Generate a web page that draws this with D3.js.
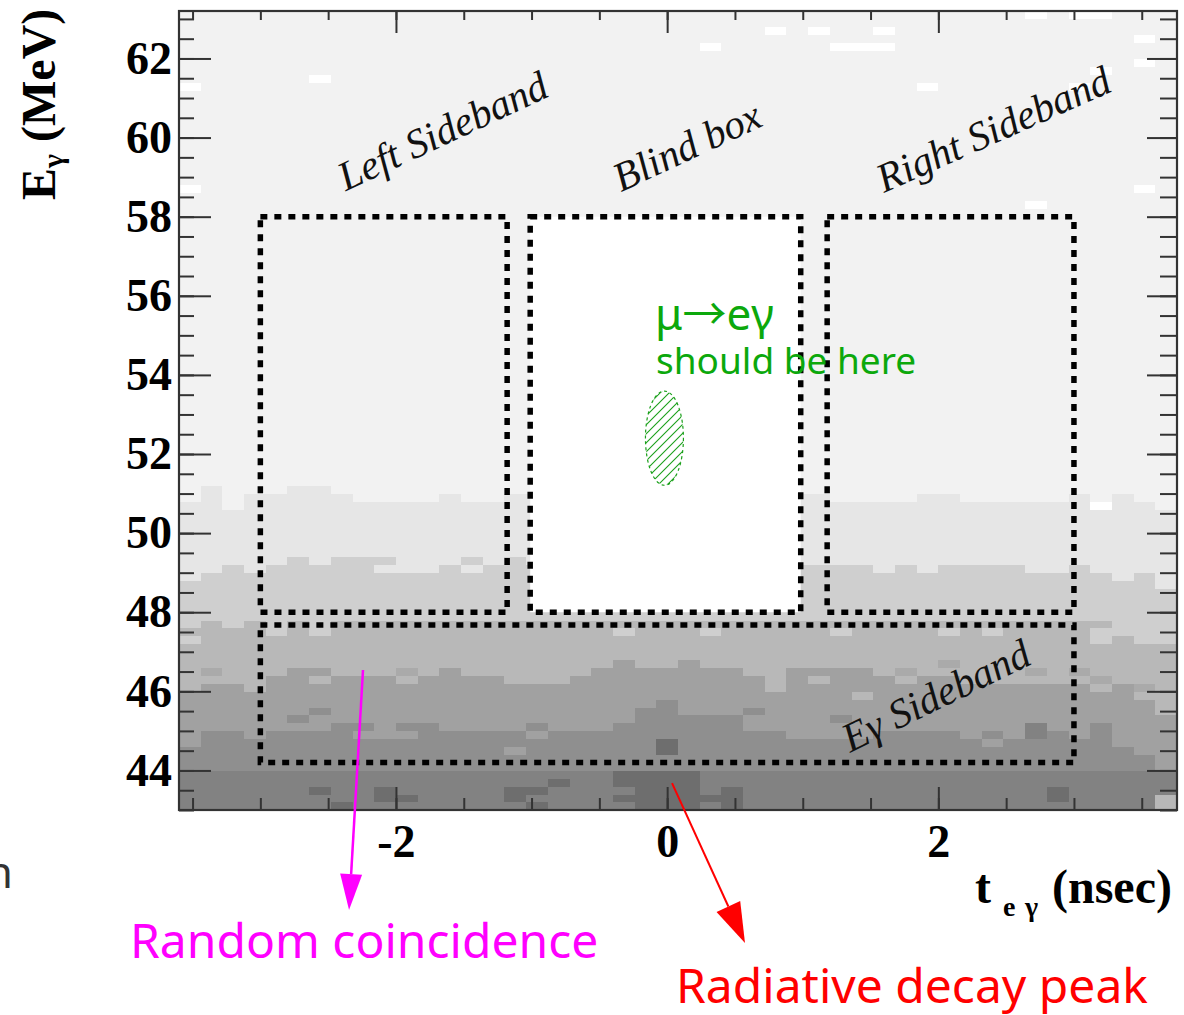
<!DOCTYPE html>
<html><head><meta charset="utf-8">
<script src="https://cdn.jsdelivr.net/npm/d3@7"></script>
<style>body{margin:0;background:#fff;} svg{display:block;}</style>
</head><body>
<svg id="c" width="1184" height="1015"></svg>
<script>
// ---------------- data ----------------
const tDomain = [-3.6, 3.76];          // t_eγ (nsec)
const eDomain = [43, 63.2];            // Eγ (MeV)
const tBinWidth = 0.16;
const eBinWidth = 0.2;
const nTBins = 46;
const nEBins = 101;

// grey levels of the 2D histogram
const levelColors = {
  "0": "#ffffff", "1": "#f2f2f2", "2": "#e6e6e6", "3": "#cfcfcf", "4": "#b8b8b8",
  "5": "#aaaaaa", "6": "#a1a1a1", "7": "#8f8f8f", "8": "#828282", "9": "#6e6e6e"
};
// per t-bin: first Eγ-bin index of each lighter level (rows below are darker)
const edge12 = [39,41,38,40,40,41,41,40,39,39, 39,39,40,39,39,40,40,40,40,40, 40,40,40,40,40,40,40,40,40,40, 39,39,39,39,40,40,39,39,39,39, 39,40,39,40,39,38];
const edge23 = [29,30,31,30,31,32,31,32,32,32, 30,30,31,30,31,32,31,31,31,31, 31,31,31,31,31,31,31,31,31,31, 31,31,30,31,30,31,31,31,31,30, 30,31,30,29,30,28];
const edge34 = [23,24,23,24,23,24,22,24,24,24, 24,24,24,24,24,24,24,24,24,24, 24,24,24,24,24,24,24,24,24,24, 24,24,24,24,24,24,24,24,24,24, 24,24,21,22,21,21];
const edge46 = [15,16,16,15,17,18,18,17,17,17, 16,17,18,17,17,16,16,16,17,18, 19,18,18,19,18,18,17,15,18,18, 18,18,17,16,17,17,16,16,16,16, 16,16,15,16,14,12];
const edge67 = [8,10,10,9,10,10,10,11,9,9, 11,11,10,10,10,10,9,10,10,10, 11,13,14,12,12,12,10,10,9,9, 9,9,10,10,10,10,9,8,9,9, 10,9,11,8,7,5];
const edge78 = [5,5,5,5,5,5,5,5,5,5, 5,5,5,5,5,5,5,5,5,5, 5,5,5,5,5,5,5,5,5,5, 5,5,5,5,5,5,5,5,5,5, 5,5,5,5,5,5];
// isolated bins [tBin, eBin, level]
const spotBins = [
  [1,17,"5"],[0,21,"3"],[4,22,"3"],[5,11,"7"],[6,16,"4"],[6,12,"7"],[6,2,"9"],[7,0,"9"],
  [8,10,"7"],[9,30,"2"],[9,1,"9"],[9,2,"9"],[10,17,"5"],[10,9,"6"],[10,1,"9"],[13,31,"3"],
  [15,7,"6"],[15,1,"9"],[15,2,"9"],[16,10,"7"],[16,2,"9"],[16,0,"9"],[17,3,"9"],
  [20,22,"3"],[20,3,"9"],[20,4,"9"],[20,1,"9"],
  [21,0,"9"],[21,1,"9"],[21,2,"9"],[21,3,"9"],[21,4,"9"],
  [22,7,"9"],[22,8,"9"],[22,0,"9"],[22,1,"9"],[22,2,"9"],[22,3,"9"],[22,4,"9"],
  [23,0,"9"],[23,1,"9"],[23,2,"9"],[23,3,"9"],[23,4,"9"],
  [24,22,"3"],[24,1,"9"],[25,0,"9"],[25,1,"9"],[25,2,"9"],[26,12,"7"],[29,16,"4"],
  [30,22,"3"],[30,11,"7"],[31,14,"4"],[33,17,"5"],[35,22,"3"],[35,18,"5"],[37,22,"3"],[37,9,"7"],
  [39,17,"5"],[39,9,"8"],[39,10,"8"],[40,1,"9"],[40,2,"9"],[41,17,"5"],[42,23,"4"],[42,16,"5"],
  [44,15,"5"],[45,0,"4"],[45,1,"4"],
  [0,91,"0"],[0,78,"0"],[6,92,"0"],[24,96,"0"],[27,98,"0"],[29,98,"0"],[32,98,"0"],
  [30,96,"0"],[31,96,"0"],[32,96,"0"],[39,100,"0"],[41,100,"0"],[42,100,"0"],[44,97,"0"],
  [44,94,"0"],[42,93,"0"],[34,91,"0"],[41,91,"0"],[44,78,"0"],[39,76,"0"],[42,38,"0"]
];

const yTickValues = [44,46,48,50,52,54,56,58,60,62];
const xTickValues = [-2,0,2];

// analysis regions
const boxNames = ["Left Sideband","Blind box","Right Sideband","Eγ Sideband"];
const boxT = [[-3.0,-1.18],[-1.01,0.985],[1.18,3.0],[-3.0,3.0]];
const boxE = [[48,58],[48,58],[48,58],[44.2,47.68]];
const boxLabelPos = [[-2.37,58.64,-25],[-0.34,58.62,-25],[1.6,58.6,-24],[1.35,44.45,-26]];

// signal region
const signalCenter = [-0.02, 52.4];
const signalRadius = [0.14, 1.19];

// arrows [t0,E0,t1,E1]
const arrowPts = [[-2.243,46.54,-2.346,40.47],[0.036,43.68,0.574,39.64]];
const arrowColors = ["#ff00ff","#ff0000"];

// ---------------- drawing ----------------
const svg = d3.select("#c");
const L = 179, R = 1177, T = 11, B = 810;
const x = d3.scaleLinear().domain(tDomain).range([L, R]);
const y = d3.scaleLinear().domain(eDomain).range([B, T]);

function levelAt(k, r) {
  if (r >= edge12[k]) return "1";
  if (r >= edge23[k]) return "2";
  if (r >= edge34[k]) return "3";
  if (r >= edge46[k]) return "4";
  if (r >= edge67[k]) return "6";
  if (r >= edge78[k]) return "7";
  return "8";
}
const spotMap = new Map(spotBins.map(s => [s[0] + "_" + s[1], s[2]]));
const cells = [];
for (let k = 0; k < nTBins; k++) {
  for (let r = 0; r < nEBins; r++) {
    const key = k + "_" + r;
    cells.push({k, r, lev: spotMap.has(key) ? spotMap.get(key) : levelAt(k, r)});
  }
}
const t0 = tDomain[0], e0 = eDomain[0];
svg.append("g").attr("shape-rendering", "crispEdges")
  .selectAll("rect").data(cells).join("rect")
  .attr("x", d => x(t0 + d.k * tBinWidth))
  .attr("y", d => y(e0 + (d.r + 1) * eBinWidth))
  .attr("width", d => x(t0 + (d.k + 1) * tBinWidth) - x(t0 + d.k * tBinWidth) + 0.4)
  .attr("height", d => y(e0 + d.r * eBinWidth) - y(e0 + (d.r + 1) * eBinWidth) + 0.4)
  .attr("fill", d => levelColors[d.lev]);

// blind box (hidden data)
svg.append("rect")
  .attr("x", x(boxT[1][0])).attr("y", y(boxE[1][1]))
  .attr("width", x(boxT[1][1]) - x(boxT[1][0]))
  .attr("height", y(boxE[1][0]) - y(boxE[1][1]))
  .attr("fill", "#fff");

// signal ellipse with hatch
const defs = svg.append("defs");
const pat = defs.append("pattern").attr("id", "hatch").attr("patternUnits", "userSpaceOnUse")
  .attr("width", 9).attr("height", 9);
pat.append("path").attr("d", "M-2,2 L2,-2 M0,9 L9,0 M7,11 L11,7")
  .attr("stroke", "#1aa01a").attr("stroke-width", 1.1);
svg.append("ellipse")
  .attr("cx", x(signalCenter[0])).attr("cy", y(signalCenter[1]))
  .attr("rx", x(signalCenter[0] + signalRadius[0]) - x(signalCenter[0]))
  .attr("ry", y(signalCenter[1]) - y(signalCenter[1] + signalRadius[1]))
  .attr("fill", "url(#hatch)").attr("stroke", "#1aa01a").attr("stroke-width", 1.2)
  .attr("stroke-dasharray", "3,3");

// axes ticks (inward)
function styleTicks(g) {
  g.select(".domain").remove();
  g.selectAll("line").attr("stroke", "#333").attr("stroke-width", 2);
}
const minorY = d3.range(43, 63.01, 0.5);
const minorX = d3.range(-3.5, 3.76, 0.5);
svg.append("g").attr("transform", `translate(${L},0)`)
  .call(d3.axisRight(y).tickValues(minorY).tickSize(15).tickFormat("")).call(styleTicks);
svg.append("g").attr("transform", `translate(${L},0)`)
  .call(d3.axisRight(y).tickValues(yTickValues).tickSize(32).tickFormat("")).call(styleTicks);
svg.append("g").attr("transform", `translate(${R},0)`)
  .call(d3.axisLeft(y).tickValues(minorY).tickSize(17).tickFormat("")).call(styleTicks);
svg.append("g").attr("transform", `translate(${R},0)`)
  .call(d3.axisLeft(y).tickValues(yTickValues).tickSize(30).tickFormat("")).call(styleTicks);
svg.append("g").attr("transform", `translate(0,${B})`)
  .call(d3.axisTop(x).tickValues(minorX).tickSize(12).tickFormat("")).call(styleTicks);
svg.append("g").attr("transform", `translate(0,${B})`)
  .call(d3.axisTop(x).tickValues(xTickValues).tickSize(23).tickFormat("")).call(styleTicks);
svg.append("g").attr("transform", `translate(0,${T})`)
  .call(d3.axisBottom(x).tickValues(minorX).tickSize(9).tickFormat("")).call(styleTicks);
svg.append("g").attr("transform", `translate(0,${T})`)
  .call(d3.axisBottom(x).tickValues(xTickValues).tickSize(22).tickFormat("")).call(styleTicks);

// frame
svg.append("rect").attr("x", L).attr("y", T).attr("width", R - L).attr("height", B - T)
  .attr("fill", "none").attr("stroke", "#333").attr("stroke-width", 2.2);

// tick labels
const yLab = svg.append("g").attr("transform", `translate(${L},0)`)
  .call(d3.axisLeft(y).tickValues(yTickValues).tickSize(0).tickPadding(7).tickFormat(d3.format("d")));
yLab.select(".domain").remove();
yLab.selectAll("text").attr("font-family", "'Liberation Serif', serif").attr("font-weight", "bold")
  .attr("font-size", 46).attr("fill", "#000");
const xLab = svg.append("g").attr("transform", `translate(0,${B})`)
  .call(d3.axisBottom(x).tickValues(xTickValues).tickSize(0).tickPadding(14)
    .tickFormat(d => (d < 0 ? "-" : "") + Math.abs(d)));
xLab.select(".domain").remove();
xLab.selectAll("text").attr("font-family", "'Liberation Serif', serif").attr("font-weight", "bold")
  .attr("font-size", 46).attr("fill", "#000");

// axis titles
const yt = svg.append("text").attr("transform", "translate(55,200) rotate(-90)")
  .attr("font-family", "'Liberation Serif', serif").attr("font-weight", "bold").attr("font-size", 48);
yt.append("tspan").text("E");
yt.append("tspan").attr("font-size", 30).attr("dy", 8).text("γ");
yt.append("tspan").attr("dy", -8).text(" (MeV)");

const xt = svg.append("text").attr("font-family", "'Liberation Serif', serif")
  .attr("font-weight", "bold").attr("font-size", 48);
xt.append("tspan").attr("x", 975).attr("y", 903).text("t");
xt.append("tspan").attr("x", 1003).attr("y", 916).attr("font-size", 28).text("e");
xt.append("tspan").attr("x", 1025).attr("y", 916).attr("font-size", 28).text("γ");
xt.append("tspan").attr("x", 1052).attr("y", 903).text("(nsec)");

// dotted boxes
boxNames.forEach((nm, i) => {
  svg.append("rect")
    .attr("x", x(boxT[i][0])).attr("y", y(boxE[i][1]))
    .attr("width", x(boxT[i][1]) - x(boxT[i][0]))
    .attr("height", y(boxE[i][0]) - y(boxE[i][1]))
    .attr("fill", "none").attr("stroke", "#000").attr("stroke-width", 5.5)
    .attr("stroke-dasharray", "7,7");
  const p = boxLabelPos[i];
  svg.append("text")
    .attr("transform", `translate(${x(p[0])},${y(p[1])}) rotate(${p[2]})`)
    .attr("font-family", "'Liberation Serif', serif").attr("font-style", "italic")
    .attr("font-size", 41).attr("fill", "#111").text(nm);
});

// signal text
const sig = svg.append("text").attr("x", 655).attr("y", 330).attr("font-family", "'Noto Sans', sans-serif")
  .attr("font-size", 44).attr("fill", "#0ca80c");
sig.append("tspan").text("μ");
sig.append("tspan").attr("font-family", "'Noto Sans CJK JP', sans-serif").text("→");
sig.append("tspan").text("eγ");
svg.append("text").attr("x", 656).attr("y", 374).attr("font-family", "'Noto Sans', sans-serif")
  .attr("font-size", 37).attr("fill", "#0ca80c").text("should be here");

// arrows
arrowPts.forEach((a, i) => {
  const x0 = x(a[0]), y0 = y(a[1]), x1 = x(a[2]), y1 = y(a[3]);
  const dx = x1 - x0, dy = y1 - y0, len = Math.hypot(dx, dy);
  const ux = dx / len, uy = dy / len;
  const hl = i === 0 ? 36 : 40, hw = i === 0 ? 11 : 13;
  const bx = x1 - ux * hl, by = y1 - uy * hl;
  svg.append("line").attr("x1", x0).attr("y1", y0).attr("x2", bx).attr("y2", by)
    .attr("stroke", arrowColors[i]).attr("stroke-width", i === 0 ? 2.5 : 2);
  svg.append("path")
    .attr("d", `M${x1},${y1}L${bx - uy * hw},${by + ux * hw}L${bx + uy * hw},${by - ux * hw}Z`)
    .attr("fill", arrowColors[i]);
});

// outer labels
svg.append("text").attr("x", 130).attr("y", 958).attr("font-family", "'Noto Sans', sans-serif")
  .attr("font-size", 48).attr("fill", "#ff00ff").text("Random coincidence");
svg.append("text").attr("x", 676).attr("y", 1003).attr("font-family", "'Noto Sans', sans-serif")
  .attr("font-size", 48).attr("fill", "#ff0000").text("Radiative decay peak");
svg.append("text").attr("x", 13).attr("y", 888).attr("text-anchor", "end")
  .attr("font-family", "'Noto Sans', sans-serif").attr("font-size", 44).attr("fill", "#333").text("n");
</script>
</body></html>
